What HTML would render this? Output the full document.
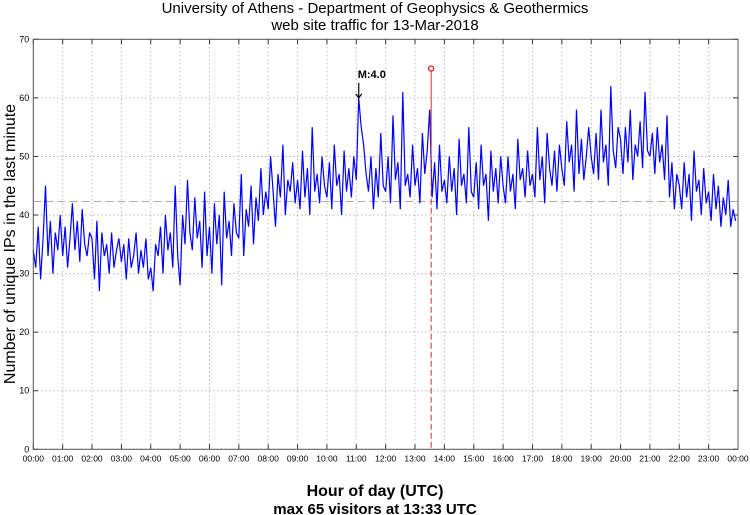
<!DOCTYPE html>
<html><head><meta charset="utf-8"><style>
body{margin:0;background:#fff;width:750px;height:515px;overflow:hidden}
svg{display:block;font-family:"Liberation Sans",sans-serif}
</style></head><body>
<svg id="chart" width="750" height="515">
<text x="375" y="13" text-anchor="middle" font-size="15">University of Athens - Department of Geophysics &amp; Geothermics</text>
<text x="375" y="30" text-anchor="middle" font-size="15">web site traffic for 13-Mar-2018</text>
<text x="375" y="496" text-anchor="middle" font-size="16" font-weight="bold">Hour of day (UTC)</text>
<text x="375" y="514" text-anchor="middle" font-size="15" font-weight="bold">max 65 visitors at 13:33 UTC</text>
<text transform="translate(15,244) rotate(-90)" text-anchor="middle" font-size="16">Number of unique IPs in the last minute</text>
<g id="grid"></g><g id="series"></g><g id="ann"></g><g id="axes"></g>
</svg>
<script>
const yTicks=[0,10,20,30,40,50,60,70];
const xTickLabels=["00:00","01:00","02:00","03:00","04:00","05:00","06:00","07:00","08:00","09:00","10:00","11:00","12:00","13:00","14:00","15:00","16:00","17:00","18:00","19:00","20:00","21:00","22:00","23:00","00:00"];
const sampleMinutes=5;
const visitors=[
34,31,38,29,36,45,33,39,30,37,34,40,
33,38,31,36,42,34,39,32,41,35,33,37,
36,29,39,27,37,33,35,30,37,31,34,36,
32,35,29,36,31,33,37,30,34,31,36,29,
31,27,35,33,38,30,40,34,37,31,45,33,
28,40,35,46,37,34,43,36,39,31,44,33,
38,30,42,35,40,28,44,36,39,33,42,37,
36,47,33,41,38,45,35,43,39,48,40,44,
41,50,44,38,47,43,52,40,46,44,49,42,
46,41,51,43,48,40,55,44,47,42,50,45,
43,49,41,52,45,47,40,51,44,48,43,50,
46,60,55,52,47,44,50,41,48,43,54,45,
44,50,42,57,46,49,41,61,45,47,43,52,
45,48,42,54,47,51,58,43,49,41,52,44,
46,42,50,44,48,40,53,45,47,42,55,44,
43,49,41,52,45,47,39,51,44,48,42,50,
45,42,50,44,47,41,53,46,48,43,51,45,
47,43,55,46,50,42,54,48,45,51,44,52,
48,45,56,49,52,44,58,47,53,46,50,55,
50,47,54,46,58,49,52,45,62,51,48,55,
53,47,55,49,58,46,52,50,56,48,61,51,
50,54,47,55,49,52,46,57,43,49,41,47,
45,41,49,43,47,39,51,44,46,40,48,42,
44,39,47,41,45,38,43,40,46,38,41,39];
const meanLevel=[42.3];
const maxPoint=[813,65];
const quake=[665,60];

const X0=33.3,X1=738,Y0=449.3,Y1=39.3;
const xs=m=>X0+(X1-X0)*m/1440;
const ys=v=>Y0-(Y0-Y1)*v/70;
const NS="http://www.w3.org/2000/svg";
function mk(p,t,a){const e=document.createElementNS(NS,t);for(const k in a)e.setAttribute(k,a[k]);p.appendChild(e);return e;}
const grid=document.getElementById('grid'),axes=document.getElementById('axes'),ser=document.getElementById('series'),ann=document.getElementById('ann');
yTicks.forEach(v=>{
 const l=mk(grid,'line',{x1:X0,x2:X1,y1:ys(v),y2:ys(v),stroke:'#999','stroke-dasharray':'1,3'});
 
 
 const t=mk(axes,'text',{x:X0-4,y:ys(v)+3,'text-anchor':'end','font-size':9});
 t.textContent=v;
 
 
 mk(axes,'line',{x1:X0,x2:X0+5,y1:ys(v),y2:ys(v),stroke:'#333'});
 mk(axes,'line',{x1:X1,x2:X1-5,y1:ys(v),y2:ys(v),stroke:'#333'});
});
xTickLabels.forEach((s,i)=>{
 const x=xs(i*60);
 const l=mk(grid,'line',{x1:x,x2:x,y1:Y1,y2:Y0,stroke:'#999','stroke-dasharray':'1,3'});
 
 
 mk(axes,'line',{x1:x,x2:x,y1:Y0,y2:Y0-5,stroke:'#333'});
 mk(axes,'line',{x1:x,x2:x,y1:Y1,y2:Y1+5,stroke:'#333'});
 const t=mk(axes,'text',{x:x,y:Y0+12,'text-anchor':'middle','font-size':8.5});
 t.textContent=s;
 
 
});
const frame=mk(axes,'rect',{x:X0,y:Y1,width:X1-X0,height:Y0-Y1,fill:'none',stroke:'#555'});


const ml=mk(ser,'line',{x1:X0,x2:X1,y1:ys(meanLevel[0]),y2:ys(meanLevel[0]),stroke:'#aaa','stroke-dasharray':'8,4'});


const pts=visitors.map((v,i)=>xs(i*sampleMinutes).toFixed(1)+','+ys(v).toFixed(1)).join(' ');
const pl=mk(ser,'polyline',{points:pts,fill:'none',stroke:'#0000ff','stroke-width':1.2});


const mx=xs(maxPoint[0]),my=ys(maxPoint[1]);
const rl=mk(ann,'line',{x1:mx,x2:mx,y1:my,y2:ys(52),stroke:'#d03030'});


const rd=mk(ann,'line',{x1:mx,x2:mx,y1:ys(52),y2:Y0,stroke:'#d03030','stroke-dasharray':'6,3'});


const rc=mk(ann,'circle',{cx:mx,cy:my,r:2.5,fill:'#fff',stroke:'#e00000','stroke-width':1.2});


const qx=xs(quake[0]),qy=ys(quake[1]);
const qa=mk(ann,'path',{d:`M${qx},${qy-15} L${qx},${qy} M${qx-3},${qy-4} L${qx},${qy} L${qx+3},${qy-4}`,stroke:'#000',fill:'none','stroke-width':1.2});


const qt=mk(ann,'text',{x:qx-1,y:qy-20,'font-size':11,'font-weight':'bold'});
qt.textContent='M:4.0';


</script>
</body></html>
